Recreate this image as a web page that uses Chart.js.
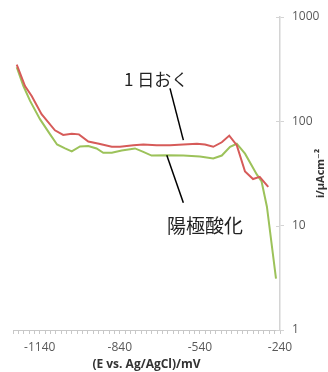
<!DOCTYPE html>
<html>
<head>
<meta charset="utf-8">
<script src="https://cdn.jsdelivr.net/npm/chart.js@4/dist/chart.umd.min.js"></script>
<style>
  html, body { margin: 0; padding: 0; background: #fff; }
  #wrap { width: 328px; height: 372px; }
</style>
</head>
<body>
<div id="wrap"><canvas id="c" width="328" height="372"></canvas></div>
<script>
// Potential (mV vs. Ag/AgCl) and current density (µA/cm²)
const restPotential = [-1226, -1195, -1170, -1133, -1083, -1052, -1020, -993, -958, -918, -870, -839, -789, -752, -702, -652, -602, -551, -521, -490, -458, -430, -402, -371, -341, -316, -284];
const restCurrent   = [349, 218, 175, 117, 82, 74, 76, 75, 64, 61, 57, 57, 59, 60, 59, 59, 60, 61, 60, 57, 63, 73, 59, 33, 28, 29.4, 23.5];

const anodPotential = [-1226, -1201, -1176, -1139, -1101, -1075, -1045, -1020, -989, -958, -927, -902, -870, -833, -783, -752, -721, -664, -602, -540, -490, -458, -427, -402, -371, -327, -309, -289, -255];
const anodCurrent   = [330, 218, 157, 105, 75, 60, 55, 51.5, 57.5, 58, 55, 50, 50, 52.6, 55, 51, 47, 47.4, 47, 46, 44, 47, 57, 61, 49, 31, 26.5, 15.2, 3.1];

const seriesNames = ['1 日おく', '陽極酸化'];
const xLabelValues = [-1140, -840, -540, -240];
const yLabelValues = [1, 10, 100, 1000];

// Callout labels: text anchor and leader line ends, in data units [mV, µA/cm²]
const calloutText   = ['1 日おく', '陽極酸化'];
const calloutAnchor = [[-704, 251], [-521, 10]];
const calloutFrom   = [[-652, 207], [-664, 47.4]];
const calloutTo     = [[-602, 66], [-602, 16.6]];

const toPoints = (xs, ys) => xs.map((x, i) => ({ x: x, y: ys[i] }));

const axisGray = '#d4d4d4';
const labelGray = '#595959';

const extras = {
  id: 'extras',
  afterDraw(chart) {
    const { ctx, chartArea: a, scales: { x, y } } = chart;
    ctx.save();
    // inner half of the value-axis tick marks
    ctx.strokeStyle = axisGray;
    ctx.lineWidth = 1;
    yLabelValues.forEach(v => {
      const py = Math.round(y.getPixelForValue(v)) + 0.5;
      ctx.beginPath();
      ctx.moveTo(a.right - 4, py);
      ctx.lineTo(a.right, py);
      ctx.stroke();
    });
    // callouts
    ctx.strokeStyle = '#000';
    ctx.lineWidth = 1.5;
    ctx.fillStyle = '#222';
    ctx.textAlign = 'center';
    ctx.textBaseline = 'middle';
    calloutText.forEach((t, i) => {
      ctx.beginPath();
      ctx.moveTo(x.getPixelForValue(calloutFrom[i][0]), y.getPixelForValue(calloutFrom[i][1]));
      ctx.lineTo(x.getPixelForValue(calloutTo[i][0]), y.getPixelForValue(calloutTo[i][1]));
      ctx.stroke();
      ctx.font = (i === 0 ? '17px' : '19px') + ' "Noto Sans CJK JP", sans-serif';
      ctx.fillText(t, x.getPixelForValue(calloutAnchor[i][0]), y.getPixelForValue(calloutAnchor[i][1]));
    });
    // value-axis title, reading upward
    ctx.translate(321, (a.top + a.bottom) / 2);
    ctx.rotate(-Math.PI / 2);
    ctx.fillStyle = '#333';
    ctx.font = 'bold 11px "Open Sans", "DejaVu Sans", sans-serif';
    ctx.fillText('i/μAcm⁻²', 0, 0);
    ctx.restore();
  }
};

new Chart(document.getElementById('c'), {
  type: 'line',
  data: {
    datasets: [
      { label: seriesNames[0], data: toPoints(restPotential, restCurrent), borderColor: '#d65b59', borderWidth: 2, pointRadius: 0, tension: 0, fill: false },
      { label: seriesNames[1], data: toPoints(anodPotential, anodCurrent), borderColor: '#9cc25a', borderWidth: 2, pointRadius: 0, tension: 0, fill: false }
    ]
  },
  options: {
    responsive: false,
    animation: false,
    layout: { padding: { left: 13, top: 17, right: 0, bottom: 0 } },
    plugins: { legend: { display: false }, tooltip: { enabled: false } },
    scales: {
      x: {
        type: 'linear',
        min: -1240,
        max: -240,
        afterBuildTicks(scale) {
          const t = [];
          for (let v = -1240; v <= -240; v += 20) t.push({ value: v });
          scale.ticks = t;
        },
        afterFit(scale) { scale.height = 42; },
        grid: { display: true, drawOnChartArea: false, drawTicks: true, tickLength: 4, color: '#c8c8c8', tickColor: '#c8c8c8' },
        border: { display: true, color: '#c8c8c8', width: 1 },
        ticks: {
          autoSkip: false,
          maxRotation: 0,
          padding: 6,
          color: labelGray,
          font: { family: '"Open Sans", "DejaVu Sans", sans-serif', size: 12 },
          callback: v => xLabelValues.includes(v) ? String(v) : ''
        },
        title: {
          display: true,
          text: '(E vs. Ag/AgCl)/mV',
          color: '#333',
          padding: { top: 0, bottom: 0 },
          font: { family: '"Open Sans", "DejaVu Sans", sans-serif', size: 12, weight: 'bold' }
        }
      },
      y: {
        type: 'logarithmic',
        position: 'right',
        min: 1,
        max: 1000,
        afterBuildTicks(scale) { scale.ticks = yLabelValues.map(v => ({ value: v })); },
        afterFit(scale) { scale.width = 48; },
        grid: { display: true, drawOnChartArea: false, drawTicks: true, tickLength: 4, color: axisGray, tickColor: axisGray },
        border: { display: true, color: axisGray, width: 1.5 },
        ticks: {
          padding: 8,
          color: labelGray,
          font: { family: '"Open Sans", "DejaVu Sans", sans-serif', size: 12 },
          callback: v => String(v)
        }
      }
    }
  },
  plugins: [extras]
});
</script>
</body>
</html>
